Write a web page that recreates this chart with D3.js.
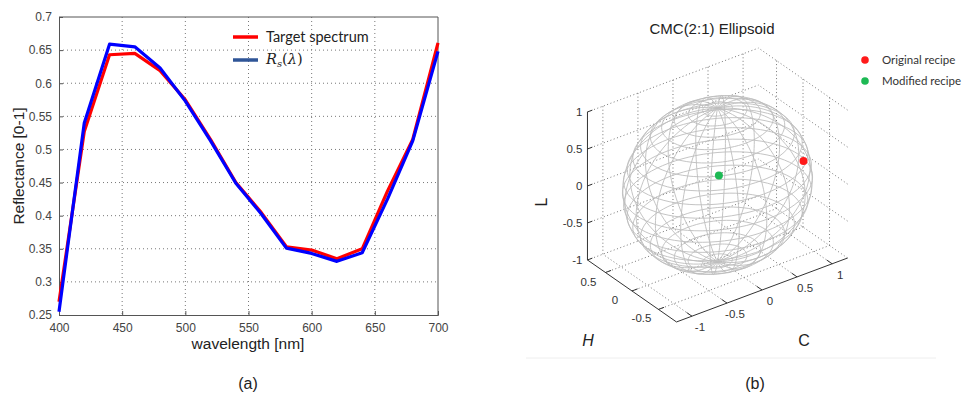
<!DOCTYPE html>
<html>
<head>
<meta charset="utf-8">
<script src="https://cdn.jsdelivr.net/npm/d3@7"></script>
<style>
  body { margin: 0; background: #fff; }
  svg { display: block; font-family: "Liberation Sans", Arial, sans-serif; }
  .tick-label { font-size: 12px; fill: #444; }
  .axis-title { font-size: 15.5px; fill: #222; }
</style>
</head>
<body>
<div id="chart"></div>
<script>
// ---- panel (a) data ----
const wavelengths    = [400, 420, 440, 460, 480, 500, 520, 540, 560, 580, 600, 620, 640, 660, 680, 700];
const targetSpectrum = [0.27, 0.527, 0.643, 0.645, 0.619, 0.575, 0.515, 0.45, 0.405, 0.353, 0.348, 0.335, 0.35, 0.437, 0.515, 0.661];
const rsSpectrum     = [0.255, 0.54, 0.659, 0.655, 0.623, 0.573, 0.513, 0.449, 0.403, 0.351, 0.343, 0.331, 0.344, 0.425, 0.513, 0.648];
const xTicks = [400, 450, 500, 550, 600, 650, 700];
const yTicks = [0.25, 0.3, 0.35, 0.4, 0.45, 0.5, 0.55, 0.6, 0.65, 0.7];
const yTickLabels = ["0.25", "0.3", "0.35", "0.4", "0.45", "0.5", "0.55", "0.6", "0.65", "0.7"];

// ---- panel (b) data ----
const cTicks = [-1, -0.5, 0, 0.5, 1];
const hTicks = [-0.5, 0, 0.5];
const lTicks = [-1, -0.5, 0, 0.5, 1];
const cLimits = [-1.22, 1.22];
const hLimits = [-0.84, 0.84];
const lLimits = [-1, 1];
const ellipsoidRadii = [1.16, 0.93, 1.04]; // C, H, L semi-axes
const recipeNames  = ["Original recipe", "Modified recipe"];
const recipeColors = ["#ff1a1a", "#1db954"];
const recipePoints = [[1.0, -0.3, 0.12], [0.02, 0, 0.12]]; // C, H, L

const width = 966, height = 395;
const svg = d3.select("#chart").append("svg")
  .attr("width", width).attr("height", height);

// ================= Panel (a) =================
const plotA = { left: 59, right: 438, top: 17, bottom: 315 };
const xScale = d3.scaleLinear().domain([400, 700]).range([plotA.left, plotA.right]);
const yScale = d3.scaleLinear().domain([0.25, 0.7]).range([plotA.bottom, plotA.top]);

const gA = svg.append("g");

// grid
gA.selectAll(".vgrid").data(xTicks.slice(1, -1)).join("line")
  .attr("x1", d => xScale(d)).attr("x2", d => xScale(d))
  .attr("y1", plotA.top).attr("y2", plotA.bottom)
  .attr("stroke", "#777").attr("stroke-dasharray", "1,3");
gA.selectAll(".hgrid").data(yTicks.slice(1, -1)).join("line")
  .attr("x1", plotA.left).attr("x2", plotA.right)
  .attr("y1", d => yScale(d)).attr("y2", d => yScale(d))
  .attr("stroke", "#777").attr("stroke-dasharray", "1,3");

// axes
gA.append("g")
  .attr("transform", `translate(0, ${plotA.bottom})`)
  .call(d3.axisBottom(xScale).tickValues(xTicks).tickSize(-4).tickPadding(8))
  .call(g => g.select(".domain").attr("stroke", "#555"))
  .call(g => g.selectAll(".tick line").attr("stroke", "#555"))
  .call(g => g.selectAll("text").attr("class", "tick-label").attr("font-family", null).attr("font-size", null));
gA.append("g")
  .attr("transform", `translate(${plotA.left}, 0)`)
  .call(d3.axisLeft(yScale).tickValues(yTicks).tickFormat((d, i) => yTickLabels[i]).tickSize(-4).tickPadding(7))
  .call(g => g.select(".domain").attr("stroke", "#555"))
  .call(g => g.selectAll(".tick line").attr("stroke", "#555"))
  .call(g => g.selectAll("text").attr("class", "tick-label").attr("font-family", null).attr("font-size", null));
gA.append("line").attr("x1", plotA.left).attr("x2", plotA.right)
  .attr("y1", plotA.top).attr("y2", plotA.top).attr("stroke", "#555");
gA.append("line").attr("x1", plotA.right).attr("x2", plotA.right)
  .attr("y1", plotA.top).attr("y2", plotA.bottom).attr("stroke", "#555");

// lines
const line = d3.line().x((d, i) => xScale(wavelengths[i])).y(d => yScale(d));
gA.append("path").datum(targetSpectrum).attr("d", line)
  .attr("fill", "none").attr("stroke", "#ff0000").attr("stroke-width", 3.2).attr("stroke-linejoin", "round");
gA.append("path").datum(rsSpectrum).attr("d", line)
  .attr("fill", "none").attr("stroke", "#0000ff").attr("stroke-width", 3.2).attr("stroke-linejoin", "round");

// legend
const legA = gA.append("g");
legA.append("line").attr("x1", 233).attr("x2", 258).attr("y1", 37).attr("y2", 37)
  .attr("stroke", "#ff0000").attr("stroke-width", 3.5);
legA.append("text").attr("x", 266).attr("y", 42).text("Target spectrum")
  .attr("font-family", "Lato, 'Open Sans', sans-serif").attr("font-size", 14.5).attr("fill", "#222");
legA.append("line").attr("x1", 233).attr("x2", 258).attr("y1", 60).attr("y2", 60)
  .attr("stroke", "#2f5597").attr("stroke-width", 3.5);
const rs = legA.append("text").attr("x", 266).attr("y", 64)
  .attr("font-family", "'DejaVu Serif', 'Liberation Serif', serif").attr("font-size", 14.5).attr("fill", "#222");
rs.append("tspan").attr("font-style", "italic").text("R");
rs.append("tspan").attr("font-style", "italic").attr("font-size", 10).attr("dy", 3).text("s");
rs.append("tspan").attr("dy", -3).text("(");
rs.append("tspan").attr("font-style", "italic").text("λ");
rs.append("tspan").text(")");

// axis titles
gA.append("text").attr("class", "axis-title")
  .attr("transform", "translate(24, 166) rotate(-90)")
  .attr("text-anchor", "middle").text("Reflectance [0-1]");
gA.append("text").attr("class", "axis-title")
  .attr("x", 248).attr("y", 349).attr("text-anchor", "middle").text("wavelength [nm]");
svg.append("text").attr("x", 248).attr("y", 389).attr("text-anchor", "middle")
  .attr("font-size", 16).attr("fill", "#222").text("(a)");

// ================= Panel (b) =================
const gB = svg.append("g");
// faint frame line of the pasted figure
gB.append("line").attr("x1", 526).attr("x2", 936).attr("y1", 358).attr("y2", 358)
  .attr("stroke", "#eeeeee");

const origin = [717.5, 185];
// screen offsets per unit of each axis
const cX = d3.scaleLinear().domain([0, 1]).range([0, 70.1]);
const cY = d3.scaleLinear().domain([0, 1]).range([0, -26.2]);
const hX = d3.scaleLinear().domain([0, 1]).range([0, -53]);
const hY = d3.scaleLinear().domain([0, 1]).range([0, -36.9]);
const lY = d3.scaleLinear().domain([0, 1]).range([0, -74]);
const project = (c, h, l) => [origin[0] + cX(c) + hX(h), origin[1] + cY(c) + hY(h) + lY(l)];
const seg = (a, b) => d3.line()([project(...a), project(...b)]);

const [c0, c1] = cLimits, [h0, h1] = hLimits, [l0, l1] = lLimits;
const gridStyle = sel => sel.attr("fill", "none").attr("stroke", "#666")
  .attr("stroke-width", 0.9).attr("stroke-dasharray", "1,2.5");

const gridSegs = [];
// back wall H = h1 : verticals at C ticks, horizontals at L ticks
cTicks.forEach(c => gridSegs.push([[c, h1, l0], [c, h1, l1]]));
lTicks.forEach(l => gridSegs.push([[c0, h1, l], [c1, h1, l]]));
// side wall C = c1 : verticals at H ticks, horizontals at L ticks
hTicks.forEach(h => gridSegs.push([[c1, h, l0], [c1, h, l1]]));
lTicks.forEach(l => gridSegs.push([[c1, h0, l], [c1, h1, l]]));
// floor L = l0
cTicks.forEach(c => gridSegs.push([[c, h0, l0], [c, h1, l0]]));
hTicks.forEach(h => gridSegs.push([[c0, h, l0], [c1, h, l0]]));
gB.selectAll(".grid3d").data(gridSegs).join("path")
  .attr("d", d => seg(d[0], d[1])).call(gridStyle);

// ellipsoid wireframe
const nU = 20, nV = 20;
const [rc, rh, rl] = ellipsoidRadii;
const pt = (u, v) => project(rc * Math.sin(v) * Math.cos(u), rh * Math.sin(v) * Math.sin(u), rl * Math.cos(v));
const meshLines = [];
d3.range(nU).forEach(i => {
  const u = (i / nU) * 2 * Math.PI;
  meshLines.push(d3.range(0, 61).map(k => pt(u, (k / 60) * Math.PI)));
});
d3.range(1, nV).forEach(j => {
  const v = (j / nV) * Math.PI;
  meshLines.push(d3.range(0, 81).map(k => pt((k / 80) * 2 * Math.PI, v)));
});
gB.selectAll(".mesh").data(meshLines).join("path")
  .attr("d", d => d3.line()(d))
  .attr("fill", "none").attr("stroke", "#bdbdbd").attr("stroke-width", 0.9);

// axis lines
const axisStyle = sel => sel.attr("fill", "none").attr("stroke", "#333").attr("stroke-width", 1);
gB.append("path").attr("d", seg([c0, h1, l0], [c0, h1, l1])).call(axisStyle);
gB.append("path").attr("d", seg([c0, h1, l0], [c0, h0, l0])).call(axisStyle);
gB.append("path").attr("d", seg([c0, h0, l0], [c1, h0, l0])).call(axisStyle);

// ticks + labels
lTicks.forEach(l => {
  gB.append("path").attr("d", seg([c0, h1, l], [c0 + 0.07, h1, l])).call(axisStyle);
  const p = project(c0, h1, l);
  gB.append("text").attr("x", p[0] - 5).attr("y", p[1] + 4).attr("text-anchor", "end")
    .attr("font-size", 11.5).attr("fill", "#333").text(l);
});
hTicks.forEach(h => {
  gB.append("path").attr("d", seg([c0, h, l0], [c0 + 0.08, h, l0])).call(axisStyle);
  const p = project(c0, h, l0);
  gB.append("text").attr("x", p[0] - 17).attr("y", p[1] + 13).attr("text-anchor", "middle")
    .attr("font-size", 11.5).attr("fill", "#333").text(h);
});
cTicks.forEach(c => {
  gB.append("path").attr("d", seg([c, h0, l0], [c, h0 + 0.1, l0])).call(axisStyle);
  const p = project(c, h0, l0);
  gB.append("text").attr("x", p[0] + 8).attr("y", p[1] + 15).attr("text-anchor", "middle")
    .attr("font-size", 11.5).attr("fill", "#333").text(c);
});

// axis titles
gB.append("text").attr("x", 588).attr("y", 346).attr("text-anchor", "middle")
  .attr("font-size", 16).attr("font-style", "italic").attr("fill", "#222").text("H");
gB.append("text").attr("x", 804).attr("y", 346).attr("text-anchor", "middle")
  .attr("font-size", 16).attr("fill", "#222").text("C");
gB.append("text").attr("transform", "translate(547, 202) rotate(-90)").attr("text-anchor", "middle")
  .attr("font-size", 16).attr("fill", "#222").text("L");

// title
gB.append("text").attr("x", 712).attr("y", 34).attr("text-anchor", "middle")
  .attr("font-size", 15).attr("fill", "#222").text("CMC(2:1) Ellipsoid");

// recipe points
gB.selectAll(".recipe").data(recipePoints).join("circle")
  .attr("cx", d => project(...d)[0]).attr("cy", d => project(...d)[1])
  .attr("r", 4).attr("fill", (d, i) => recipeColors[i]);

// legend
recipeNames.forEach((name, i) => {
  gB.append("circle").attr("cx", 865).attr("cy", 60 + i * 21).attr("r", 3.8).attr("fill", recipeColors[i]);
  gB.append("text").attr("x", 882).attr("y", 64 + i * 21)
    .attr("font-family", "Lato, 'Open Sans', sans-serif").attr("font-size", 11.5).attr("fill", "#333").text(name);
});

svg.append("text").attr("x", 755).attr("y", 389).attr("text-anchor", "middle")
  .attr("font-size", 16).attr("fill", "#222").text("(b)");
</script>
</body>
</html>
